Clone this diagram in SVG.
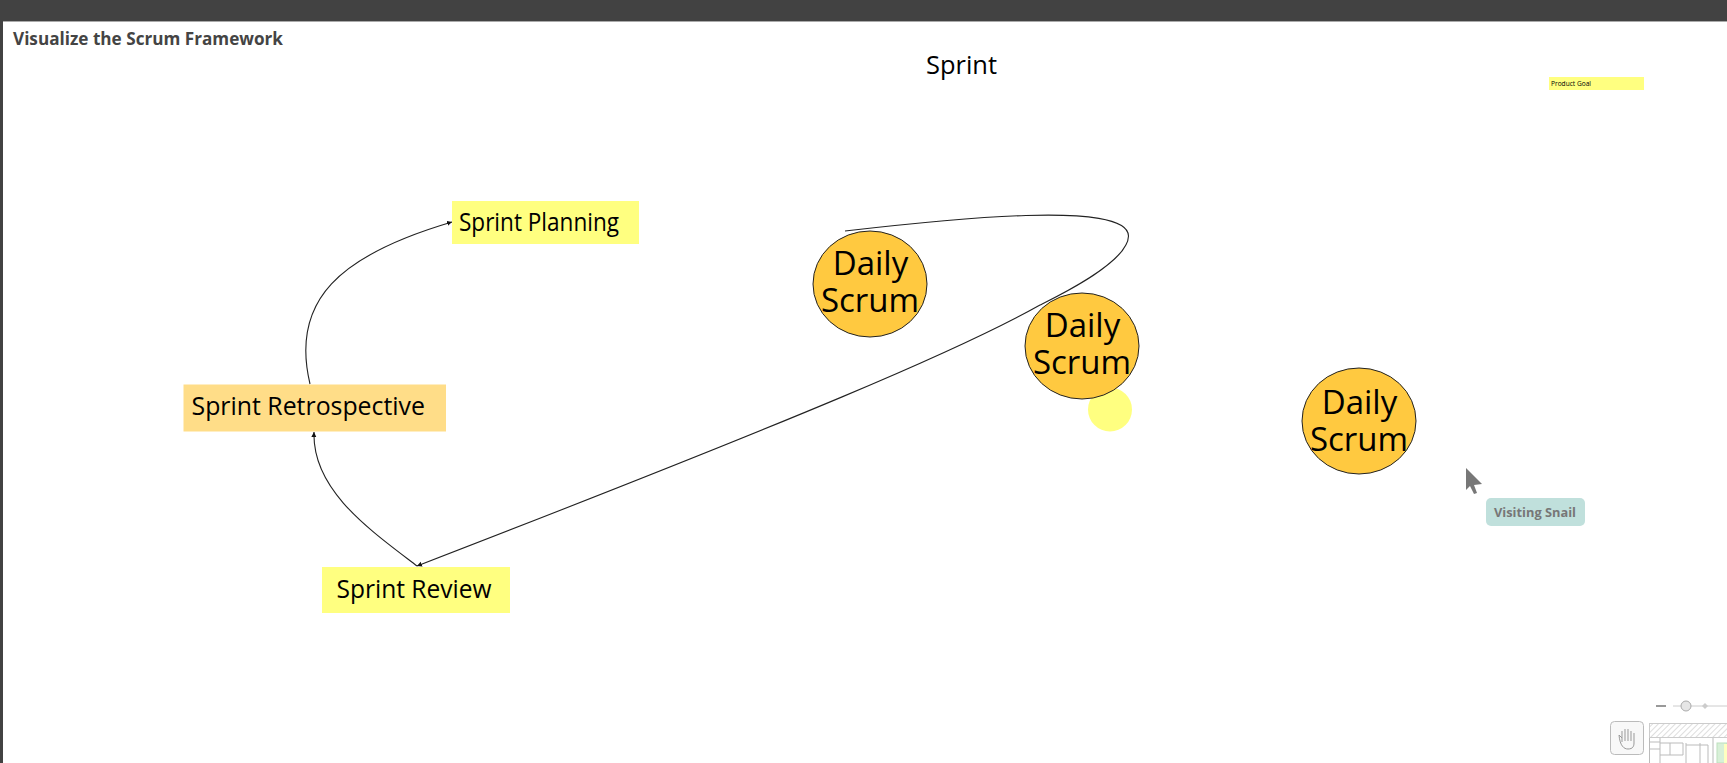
<svg xmlns="http://www.w3.org/2000/svg" width="1727" height="763" viewBox="0 0 1727 763">
<style>
text{font-family:"Open Sans","Liberation Sans",sans-serif;fill:#000}
.sticky{fill:#ffff80}
.lbl{font-size:25px}
.ds{font-size:33px;text-anchor:middle}
.scrum{fill:#ffc940;stroke:#222;stroke-width:1}
.conn{fill:none;stroke:#222;stroke-width:1.1}
.mm{fill:none;stroke:#bbb;stroke-width:1}
</style>
<defs>
<marker id="a" markerWidth="6" markerHeight="6" refX="5" refY="2.5" orient="auto" markerUnits="userSpaceOnUse"><path d="M0,0L5,2.5L0,5z" fill="#111"/></marker>
<pattern id="h" width="4" height="4" patternUnits="userSpaceOnUse" patternTransform="rotate(45)"><rect width="4" height="4" fill="#fff"/><rect width="1" height="4" fill="#ddd"/></pattern>
</defs>
<rect width="1727" height="763" fill="#fff"/>
<rect width="1727" height="21" fill="#424242"/>
<rect y="21" width="3" height="742" fill="#424242"/>
<rect x="3" y="21" width="1724" height="1" fill="#aaa"/>
<text x="13" y="45" font-size="18" font-weight="700" style="fill:#444" textLength="270" lengthAdjust="spacingAndGlyphs">Visualize the Scrum Framework</text>
<text x="926" y="74" font-size="26" textLength="71" lengthAdjust="spacingAndGlyphs">Sprint</text>
<g id="product-goal"><rect class="sticky" x="1549" y="77" width="95" height="13"/><text x="1551" y="86" font-size="7" textLength="40" lengthAdjust="spacingAndGlyphs">Product Goal</text></g>
<g id="yellow-dot"><circle class="sticky" cx="1110" cy="409.5" r="22"/></g>
<g id="sprint-planning"><rect class="sticky" x="452" y="201" width="187" height="43"/><text class="lbl" x="459" y="231" textLength="160" lengthAdjust="spacingAndGlyphs">Sprint Planning</text></g>
<g id="sprint-retrospective"><rect x="183.500" y="384.500" width="262.500" height="47" fill="#ffdd88"/><text class="lbl" x="191.500" y="415" textLength="233.500" lengthAdjust="spacingAndGlyphs">Sprint Retrospective</text></g>
<g id="sprint-review"><rect class="sticky" x="322" y="567" width="188" height="46"/><text class="lbl" x="336.500" y="598" textLength="155" lengthAdjust="spacingAndGlyphs">Sprint Review</text></g>
<g id="daily-scrum-1"><ellipse class="scrum" cx="870" cy="284" rx="57" ry="53"/><text class="ds" x="870.500" y="275">Daily</text><text class="ds" x="870" y="312">Scrum</text></g>
<g id="daily-scrum-2"><ellipse class="scrum" cx="1082" cy="346" rx="57" ry="53"/><text class="ds" x="1082.500" y="337">Daily</text><text class="ds" x="1082" y="374">Scrum</text></g>
<g id="daily-scrum-3"><ellipse class="scrum" cx="1359" cy="421" rx="57" ry="53"/><text class="ds" x="1359.500" y="414">Daily</text><text class="ds" x="1359" y="451">Scrum</text></g>
<g id="connectors">
<path class="conn" marker-end="url(#a)" d="M310,384C290,300 340,255 452,222"/>
<path class="conn" marker-end="url(#a)" d="M417,566C370,530 312,490 314,432"/>
<path class="conn" marker-end="url(#a)" d="M845,231C950,219 1128,200 1128.500,236C1128,262 1060,295 1040,305C960,350 800,418 417,566"/>
</g>
<g id="cursor"><path d="M1466,468L1482,484L1474,485L1477,493L1474,494L1470,486L1466,490z" fill="#777"/><rect x="1486" y="498" width="99" height="28" rx="5" fill="#c0e0dc"/><text x="1494" y="517" font-size="13" font-weight="700" style="fill:#777" textLength="82" lengthAdjust="spacingAndGlyphs">Visiting Snail</text></g>
<g id="controls">
<rect x="1656" y="705" width="10" height="2" fill="#999"/>
<path d="M1673,706H1710M1710,706H1727" stroke="#ccc"/>
<circle cx="1686" cy="706" r="5" fill="#e6e6e6" stroke="#aaa"/>
<path d="M1705,703L1708,706L1705,709L1702,706z" fill="#ccc"/>
<rect x="1610.500" y="721.500" width="33" height="33" rx="4" fill="#f8f8f8" stroke="#bbb"/>
<path d="M1622,742V731M1625,741V729M1628,741V729M1631,741V731M1634,743V733M1622,738L1619,735M1619,735C1620,746 1624,749 1628,749C1633,749 1634,746 1634,743" fill="none" stroke="#999"/>
<rect x="1649.500" y="723.500" width="78" height="14" fill="url(#h)" stroke="#ccc"/>
<path class="mm" d="M1649.500,738V763M1660,738V763M1649,742H1660M1649,749H1660M1660,743H1683V755H1660M1670,743V755M1686,743V763M1700,743V763M1686,745H1708V763M1713,738V763"/>
<rect x="1717" y="743" width="10" height="20" fill="#d8f0d8" stroke="#bde0bd"/>
<rect x="1724" y="744" width="3" height="19" fill="#ffffc0"/>
</g>
</svg>
